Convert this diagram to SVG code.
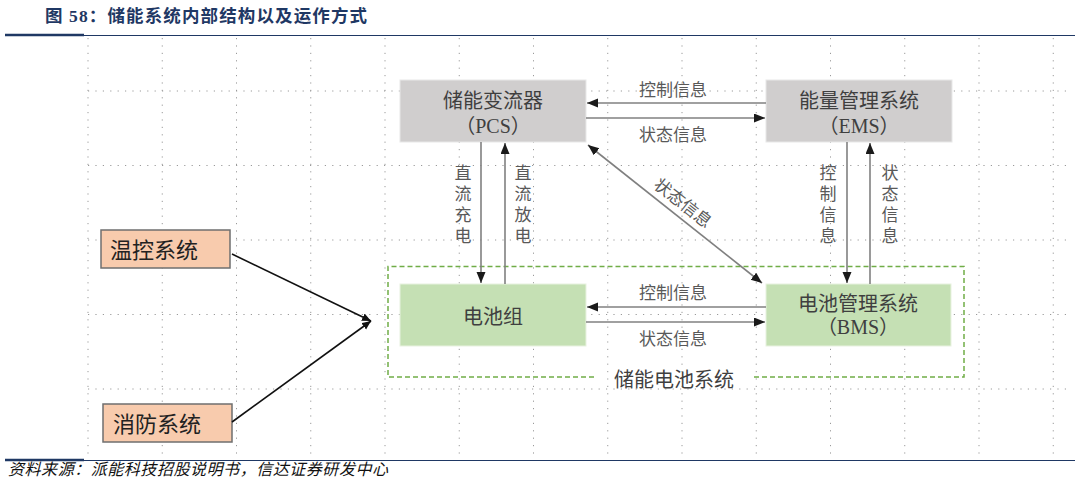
<svg xmlns="http://www.w3.org/2000/svg" width="1080" height="486" viewBox="0 0 1080 486">
<style>
.grid{stroke:#9a9a9a;stroke-width:1;stroke-dasharray:1.2 6.2;fill:none}
.rule{stroke:#1f3864;fill:none}
.title{font-family:"Liberation Serif","Noto Sans CJK SC",serif;font-weight:bold;font-size:17.5px;fill:#1f3864}
.foot{font-family:"Liberation Serif","Noto Sans CJK SC",serif;font-style:italic;font-size:16px;fill:#111}
.nt{font-family:"Liberation Serif","Noto Sans CJK SC",serif;font-size:20px;fill:#3f3f3f;text-anchor:middle}
.lb{font-family:"Liberation Serif","Noto Sans CJK SC",serif;font-size:17px;fill:#595959;text-anchor:middle}
.st{font-family:"Liberation Serif","Noto Sans CJK SC",serif;font-size:22px;fill:#222;text-anchor:start}
.gray{fill:#d0cece;stroke:#e8e8e8;stroke-width:1}
.green{fill:#c5e0b4;stroke:#e8f2e0;stroke-width:1}
.peach{fill:#f8cbad;stroke:#6f6f6f;stroke-width:1.5}
.cn{stroke:#808080;stroke-width:1.6;fill:none;marker-end:url(#ah)}
.bk{stroke:#111;stroke-width:1.6;fill:none;marker-end:url(#ahb)}
</style>
<defs>
<marker id="ah" markerUnits="userSpaceOnUse" markerWidth="12" markerHeight="10" refX="11" refY="4.5" orient="auto-start-reverse"><path d="M0,0 L11,4.5 L0,9 z" fill="#1a1a1a"/></marker>
<marker id="ahb" markerUnits="userSpaceOnUse" markerWidth="10" markerHeight="10" refX="9" refY="4" orient="auto"><path d="M0,0 L9,4 L0,8 z" fill="#111"/></marker>
</defs>
<rect width="1080" height="486" fill="#fff"/>
<g id="grid">
<path class="grid" d="M88,38V458 M162.25,38V458 M236.5,38V458 M310.75,38V458 M385,38V458 M459.25,38V458 M533.5,38V458 M607.75,38V458 M682,38V458 M756.25,38V458 M830.5,38V458 M904.75,38V458 M979,38V458 M1053.25,38V458"/>
<path class="grid" d="M88,91H1072 M88,165.5H1072 M88,240H1072 M88,314.5H1072 M88,389H1072"/>
</g>
<g id="header">
<text class="title" x="45" y="22" textLength="322">图 58：储能系统内部结构以及运作方式</text>
<path class="rule" stroke-width="1" d="M5,35.5H1075"/>
<path class="rule" stroke-width="2.5" d="M5,35H84"/>
</g>
<g id="container">
<path d="M594,377H388V266.5H964V377H752" fill="none" stroke="#70ad47" stroke-width="1.5" stroke-dasharray="5 3"/>
<text class="nt" x="674" y="387">储能电池系统</text>
</g>
<g id="pcs">
<rect class="gray" x="400" y="80" width="186" height="62"/>
<text class="nt" x="493" y="108">储能变流器</text>
<text class="nt" x="493" y="133">（PCS）</text>
</g>
<g id="ems">
<rect class="gray" x="766" y="80" width="186" height="62"/>
<text class="nt" x="859" y="108">能量管理系统</text>
<text class="nt" x="859" y="133">（EMS）</text>
</g>
<g id="battery">
<rect class="green" x="400" y="284" width="186" height="62"/>
<text class="nt" x="493" y="324">电池组</text>
</g>
<g id="bms">
<rect class="green" x="766" y="284" width="185" height="62"/>
<text class="nt" x="858" y="311">电池管理系统</text>
<text class="nt" x="858" y="334">（BMS）</text>
</g>
<g id="thermal">
<rect class="peach" x="101" y="230" width="129" height="38"/>
<text class="st" x="110" y="258">温控系统</text>
</g>
<g id="fire">
<rect class="peach" x="103" y="404" width="129" height="38"/>
<text class="st" x="113" y="432">消防系统</text>
</g>
<g id="connectors">
<path class="cn" d="M766,103H587"/>
<path class="cn" d="M586,118H765"/>
<path class="cn" d="M481,142V283"/>
<path class="cn" d="M505,284V143"/>
<path class="cn" d="M847,142V283"/>
<path class="cn" d="M870,284V143"/>
<path class="cn" d="M766,307H587"/>
<path class="cn" d="M586,322H765"/>
<path class="cn" d="M588,145L762,283" marker-start="url(#ah)"/>
<path class="bk" d="M232,254L371,321"/>
<path class="bk" d="M232,422L371,321"/>
</g>
<g id="labels">
<text class="lb" x="673" y="96">控制信息</text>
<text class="lb" x="673" y="141">状态信息</text>
<text class="lb" x="673" y="299">控制信息</text>
<text class="lb" x="673" y="345">状态信息</text>
<text class="lb" transform="translate(683,203) rotate(38.3)" y="6">状态信息</text>
<g class="lb">
<text class="lb" x="463" y="179">直</text><text class="lb" x="463" y="200">流</text><text class="lb" x="463" y="221">充</text><text class="lb" x="463" y="242">电</text>
<text class="lb" x="523" y="179">直</text><text class="lb" x="523" y="200">流</text><text class="lb" x="523" y="221">放</text><text class="lb" x="523" y="242">电</text>
<text class="lb" x="828" y="179">控</text><text class="lb" x="828" y="200">制</text><text class="lb" x="828" y="221">信</text><text class="lb" x="828" y="242">息</text>
<text class="lb" x="890" y="179">状</text><text class="lb" x="890" y="200">态</text><text class="lb" x="890" y="221">信</text><text class="lb" x="890" y="242">息</text>
</g>
</g>
<g id="footer">
<path class="rule" stroke-width="1" d="M5,460.5H1075"/>
<path class="rule" stroke-width="2.5" d="M5,460H84"/>
<text class="foot" x="8" y="475" textLength="380">资料来源：派能科技招股说明书，信达证券研发中心</text>
</g>
</svg>
